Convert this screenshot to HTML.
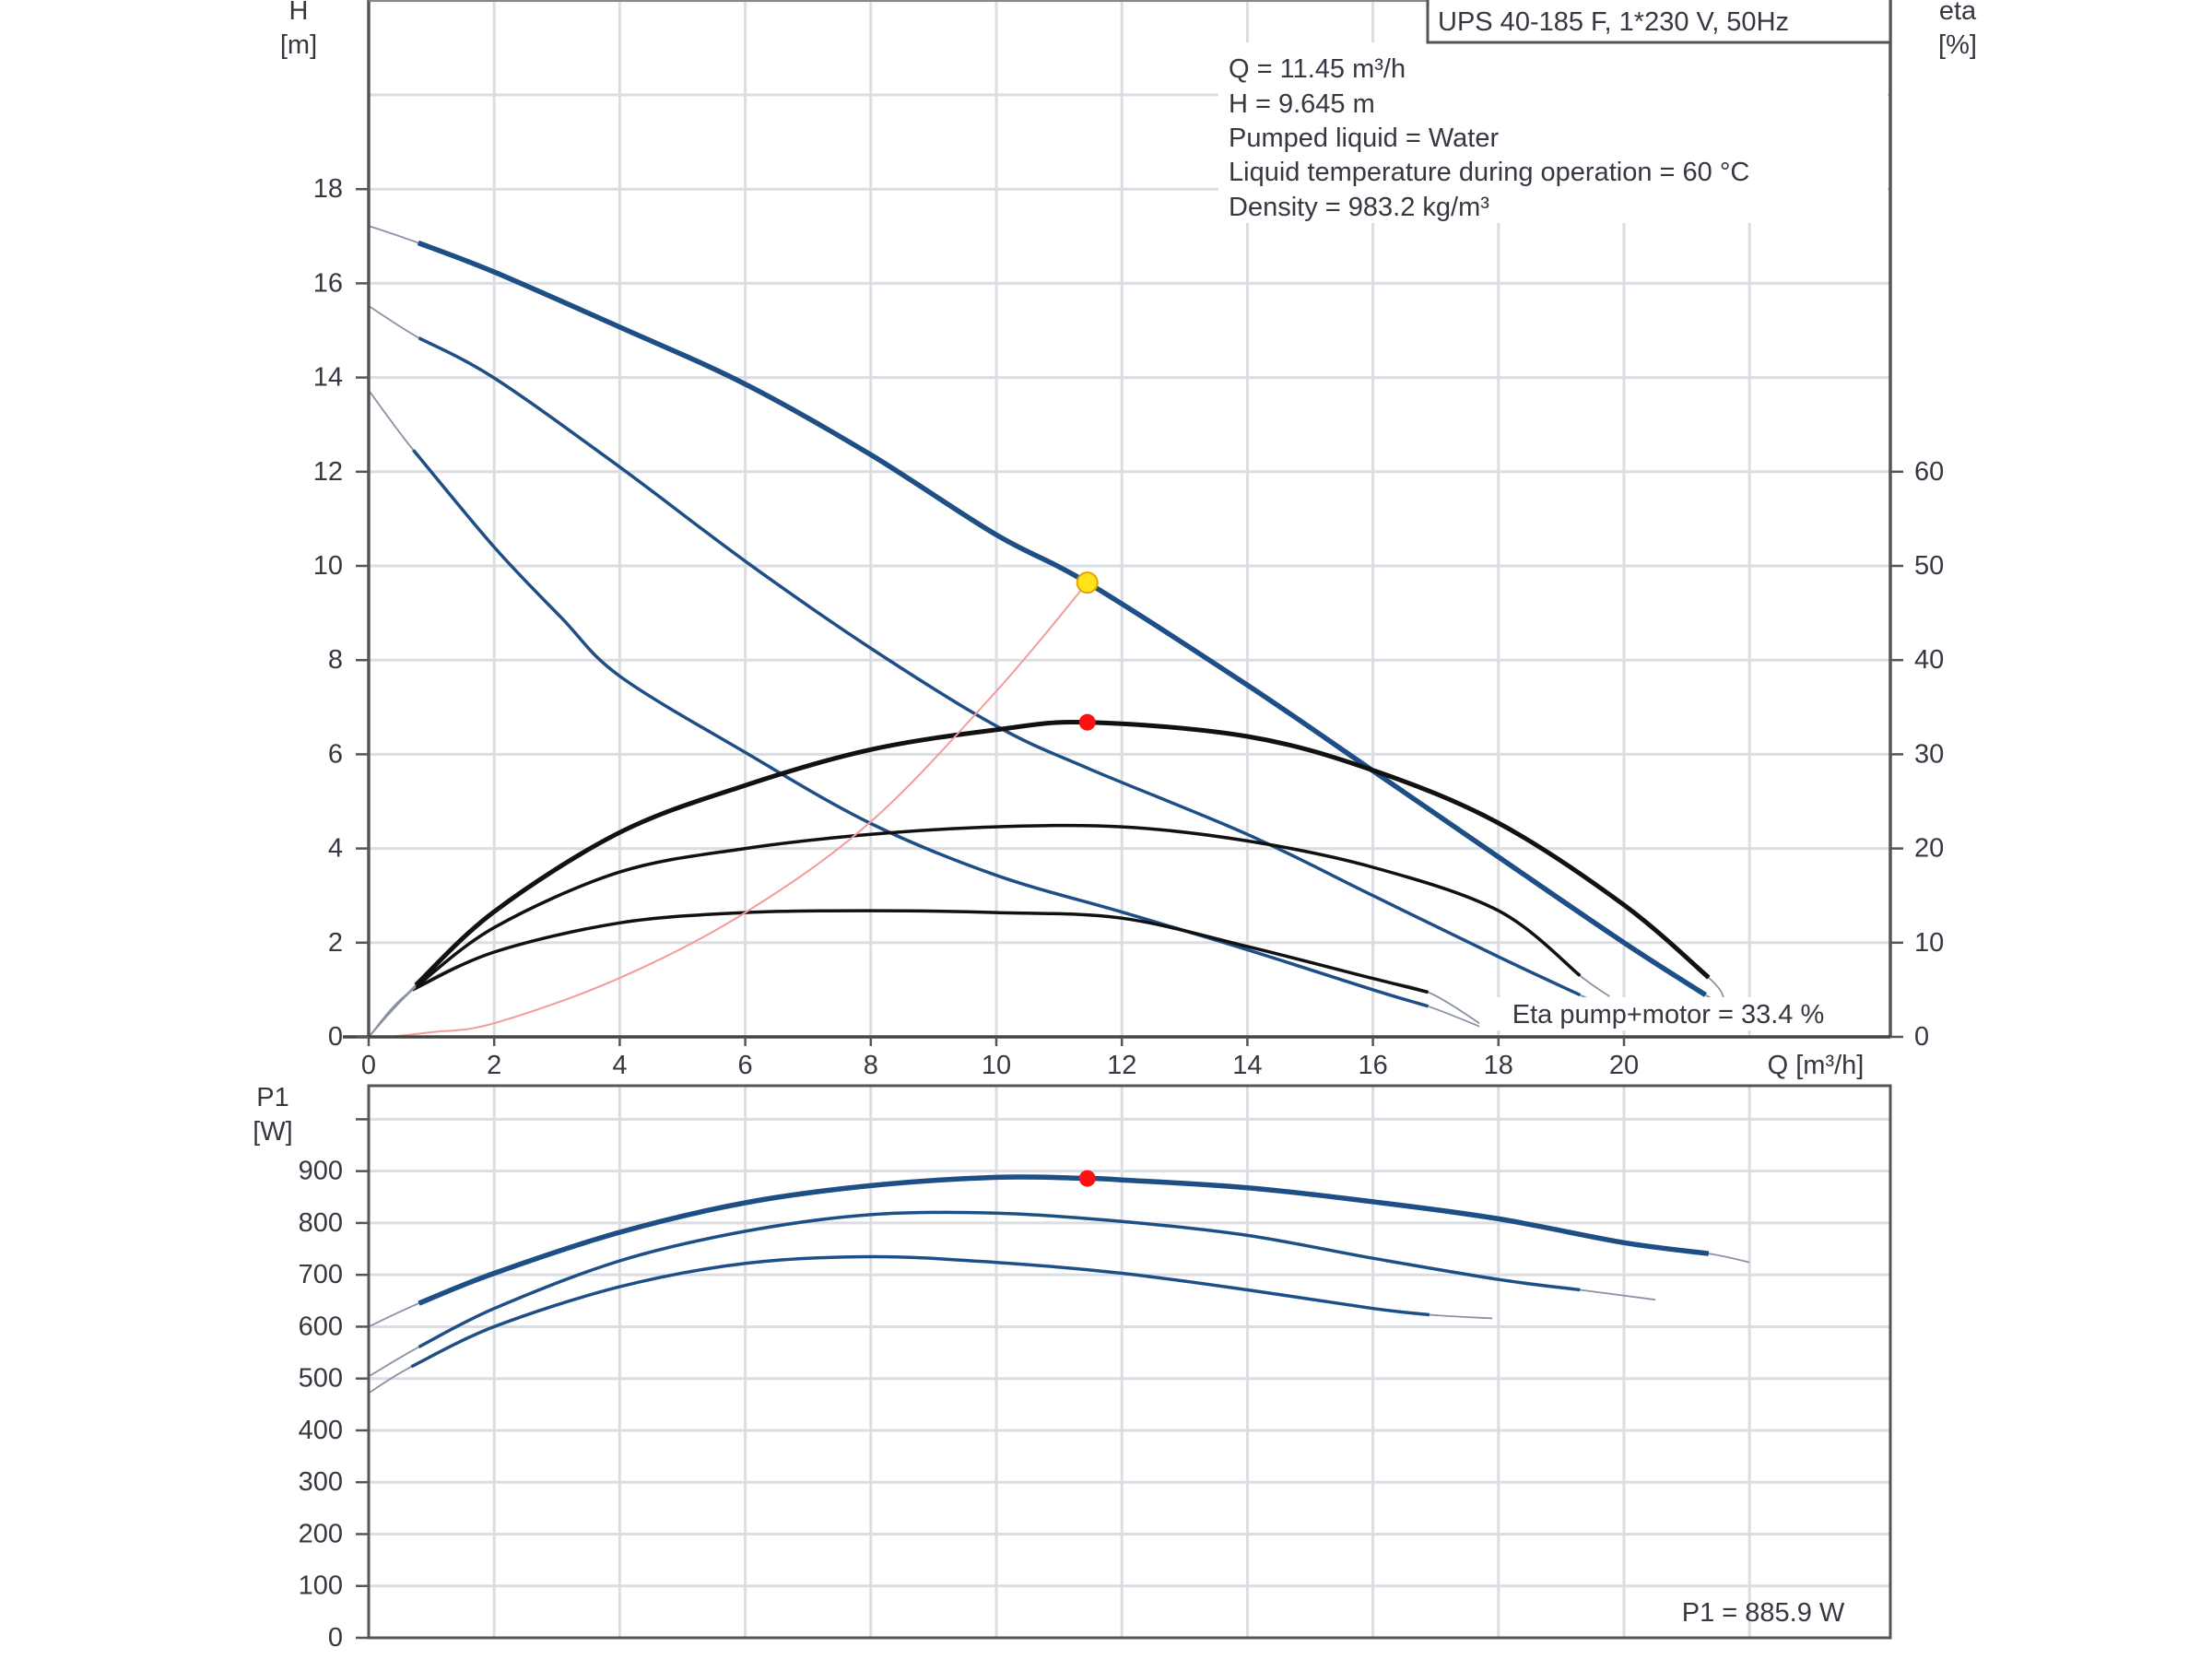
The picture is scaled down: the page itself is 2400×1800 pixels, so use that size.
<!DOCTYPE html>
<html><head><meta charset="utf-8">
<style>
html,body{margin:0;padding:0;background:#fff;}
svg{display:block;font-family:"Liberation Sans",Arial,sans-serif;}
</style></head>
<body>
<svg id="chart" width="2400" height="1800" viewBox="0 0 2400 1800" xmlns="http://www.w3.org/2000/svg">
<rect x="0" y="0" width="2400" height="1800" fill="#fff"/>
<g id="grid"></g>
<g id="curves"></g>
<g id="axes"></g>
<g id="labels"></g>
</svg>
<script>
const qTicks=[0,2,4,6,8,10,12,14,16,18,20];
const hTicks=[0,2,4,6,8,10,12,14,16,18];
const etaTicks=[0,10,20,30,40,50,60];
const p1Ticks=[0,100,200,300,400,500,600,700,800,900];

const h1Q=[0,0.79,2,4,6,8,10,11.45,14,16,18,20,21.3,21.7];
const h1H=[17.22,16.86,16.24,15.07,13.86,12.36,10.66,9.645,7.47,5.65,3.82,2.0,0.89,0.6];
const h2Q=[0,0.8,2,4,6,8,10,11.5,14,16,18,19.3,19.8];
const h2H=[15.52,14.84,13.99,12.1,10.1,8.25,6.6,5.68,4.3,3.0,1.7,0.89,0.6];
const h3Q=[0,0.71,2,3.07,4,6,8,10,12,14,16,16.88,17.74];
const h3H=[13.73,12.46,10.4,8.9,7.66,6.04,4.53,3.43,2.65,1.85,1.0,0.65,0.2];

const e1Q=[0,0.75,2,4,6,8,10,11.45,14,16,18,20,21.35,21.6];
const e1=[0,5.5,13.3,21.7,26.7,30.5,32.6,33.4,31.9,28.3,22.7,14,6.3,4];
const e2Q=[0,0.75,2,4,6,8,10,12,14,16,18,19.3,19.77];
const e2=[0,5.3,11.6,17.5,20,21.5,22.3,22.3,20.8,18,13.4,6.5,4.3];
const e3Q=[0,0.7,2,4,6,8,10,12,14,16,16.88,17.8];
const e3=[0,5,9,12.1,13.2,13.4,13.2,12.6,9.6,6.2,4.75,1];

const sysQ=[0.4,1,2,4,6,8,10,11.45];
const sysH=[0.01,0.1,0.29,1.25,2.64,4.57,7.34,9.645];

const p1aQ=[0,0.8,2,4,6,8,10,11.45,12,14,16,18,20,21.35,22];
const p1a=[600,645,703,782,839,872,888,886,883,868,841,808,762,741,724];
const p1bQ=[0,0.8,2,4,6,8,10,12,14,16,18,19.3,20.5];
const p1b=[504,561,635,727,784,816,819,803,776,732,691,671,652];
const p1cQ=[0,0.68,2,4,6,8,10,12,14,16,16.9,17.9];
const p1c=[472,523,600,677,722,735,724,703,671,635,623,616];

const dutyQ=11.45, dutyH=9.645, dutyEta=33.4, dutyP1=885.9;

const NS="http://www.w3.org/2000/svg";
const X0=400, XR=2051, QU=68.1;
const Y0=1125, HU=51.1;
const PY0=1777, PU=0.5626, PTOP=1178;
function xQ(q){return X0+q*QU;}
function yH(h){return Y0-h*HU;}
function yE(e){return yH(e/5);}
function yP(w){return PY0-w*PU;}

function el(tag,attrs,parent){const e=document.createElementNS(NS,tag);for(const k in attrs)e.setAttribute(k,attrs[k]);parent.appendChild(e);return e;}
const grid=document.getElementById('grid');
const curves=document.getElementById('curves');
const axes=document.getElementById('axes');
const labels=document.getElementById('labels');

function txt(s,x,y,anchor,name,size){
  const t=el('text',{x:x,y:y,'text-anchor':anchor,'dominant-baseline':'central','font-size':size||29,fill:'#3b3542'},labels);
  t.textContent=s;
  
  
  return t;
}

// grid upper
for(let q=2;q<=22;q+=2){
  const l=el('line',{x1:xQ(q),y1:0,x2:xQ(q),y2:Y0,stroke:'#dcdde3','stroke-width':3},grid);
  
  
  const l2=el('line',{x1:xQ(q),y1:PTOP,x2:xQ(q),y2:PY0,stroke:'#dcdde3','stroke-width':3},grid);
  
  
}
for(let h=2;h<=22;h+=2){
  const l=el('line',{x1:X0,y1:yH(h),x2:XR,y2:yH(h),stroke:'#dcdde3','stroke-width':3},grid);
  
  
}
for(let w=100;w<=1000;w+=100){
  const l=el('line',{x1:X0,y1:yP(w),x2:XR,y2:yP(w),stroke:'#dcdde3','stroke-width':3},grid);
  
  
}
// info white background
const ib=el('rect',{x:1322,y:46,width:726,height:196,fill:'#fff'},grid);



function path(qs,vs,yf,from,to){
  const pts=[];
  for(let i=from;i<=to;i++)pts.push([xQ(qs[i]),yf(vs[i])]);
  let d='M'+pts[0][0].toFixed(1)+','+pts[0][1].toFixed(1);
  for(let i=0;i<pts.length-1;i++){
    const p0=pts[Math.max(0,i-1)],p1=pts[i],p2=pts[i+1],p3=pts[Math.min(pts.length-1,i+2)];
    const c1x=p1[0]+(p2[0]-p0[0])/6,c1y=p1[1]+(p2[1]-p0[1])/6;
    const c2x=p2[0]-(p3[0]-p1[0])/6,c2y=p2[1]-(p3[1]-p1[1])/6;
    d+=' C'+c1x.toFixed(1)+','+c1y.toFixed(1)+' '+c2x.toFixed(1)+','+c2y.toFixed(1)+' '+p2[0].toFixed(1)+','+p2[1].toFixed(1);
  }
  return d;
}
function series(qs,vs,yf,color,w,name){
  const n=qs.length;
  const thin=el('path',{d:path(qs,vs,yf,0,n-1),fill:'none',stroke:'#8a93a6','stroke-width':1.8},curves);
  
  
  const p=el('path',{d:path(qs,vs,yf,1,n-2),fill:'none',stroke:color,'stroke-width':w,'stroke-linecap':'butt'},curves);
  
  
}
const BLUE='#1d4f86';
series(h3Q,h3H,yH,BLUE,3.5,'head-curve-speed-1');
series(h2Q,h2H,yH,BLUE,3.5,'head-curve-speed-2');
series(h1Q,h1H,yH,BLUE,5.5,'head-curve-speed-3');
series(e3Q,e3,yE,'#111',3.5,'eta-curve-speed-1');
series(e2Q,e2,yE,'#111',3.5,'eta-curve-speed-2');
series(e1Q,e1,yE,'#111',5,'eta-curve-speed-3');
const sys=el('path',{d:path(sysQ,sysH,yH,0,sysQ.length-1),fill:'none',stroke:'#f39a9a','stroke-width':2},curves);


series(p1cQ,p1c,yP,BLUE,3.5,'p1-curve-speed-1');
series(p1bQ,p1b,yP,BLUE,3.5,'p1-curve-speed-2');
series(p1aQ,p1a,yP,BLUE,5.5,'p1-curve-speed-3');

const dy=el('circle',{cx:xQ(dutyQ),cy:yH(dutyH),r:11,fill:'#ffe21a',stroke:'#e3a400','stroke-width':2},curves);


const de=el('circle',{cx:xQ(dutyQ),cy:yE(dutyEta),r:9,fill:'#ff1010'},curves);


const dp=el('circle',{cx:xQ(dutyQ),cy:yP(dutyP1),r:9,fill:'#ff1010'},curves);



// axes / frames
function line(x1,y1,x2,y2,w,c,name){
  const l=el('line',{x1:x1,y1:y1,x2:x2,y2:y2,stroke:c||'#555','stroke-width':w||3},axes);
  
  
}
line(X0,0,X0,Y0,3.5,'#555','y-axis-h');
line(XR,0,XR,Y0,3.5,'#555','y-axis-eta');
line(X0,1,XR,1,2,'#888','plot-top-border');
line(372,Y0,XR,Y0,3.5,'#444','x-axis');
const lb=el('rect',{x:X0,y:PTOP,width:XR-X0,height:PY0-PTOP,fill:'none',stroke:'#555','stroke-width':3},axes);


hTicks.forEach(h=>{line(386,yH(h),X0,yH(h),2.5,'#555','h-tick');txt(String(h),372,yH(h),'end','h-tick-label');});
etaTicks.forEach(e=>{line(XR,yE(e),XR+14,yE(e),2.5,'#555','eta-tick');txt(String(e),2077,yE(e),'start','eta-tick-label');});
qTicks.forEach(q=>{line(xQ(q),Y0,xQ(q),Y0+10,2.5,'#555','q-tick');txt(String(q),xQ(q),1156,'middle','q-tick-label');});
p1Ticks.forEach(w=>{line(386,yP(w),X0,yP(w),2.5,'#555','p1-tick');txt(String(w),372,yP(w),'end','p1-tick-label');});
line(386,yP(1000),X0,yP(1000),2.5,'#555','p1-tick');

txt('H',324,12,'middle','h-axis-title');
txt('[m]',324,49,'middle','h-axis-unit');
txt('eta',2124,12,'middle','eta-axis-title');
txt('[%]',2124,49,'middle','eta-axis-unit');
txt('Q [m³/h]',1970,1156,'middle','q-axis-title');
txt('P1',296,1191,'middle','p1-axis-title');
txt('[W]',296,1228,'middle','p1-axis-unit');

const tb=el('rect',{x:1549,y:-2,width:502,height:48,fill:'#fff',stroke:'#555','stroke-width':3},labels);


txt('UPS 40-185 F, 1*230 V, 50Hz',1560,24,'start','pump-title');
const info=['Q = 11.45 m³/h','H = 9.645 m','Pumped liquid = Water','Liquid temperature during operation = 60 °C','Density = 983.2 kg/m³'];
const infoY=[75,113,150,187,225];
info.forEach((s,i)=>txt(s,1333,infoY[i],'start','info-line'));
const eb=el('rect',{x:1605,y:1082,width:410,height:36,fill:'#fff'},labels);


txt('Eta pump+motor = 33.4 %',1810,1101,'middle','eta-duty-label');
txt('P1 = 885.9 W',1913,1750,'middle','p1-duty-label');
</script>
</body></html>
